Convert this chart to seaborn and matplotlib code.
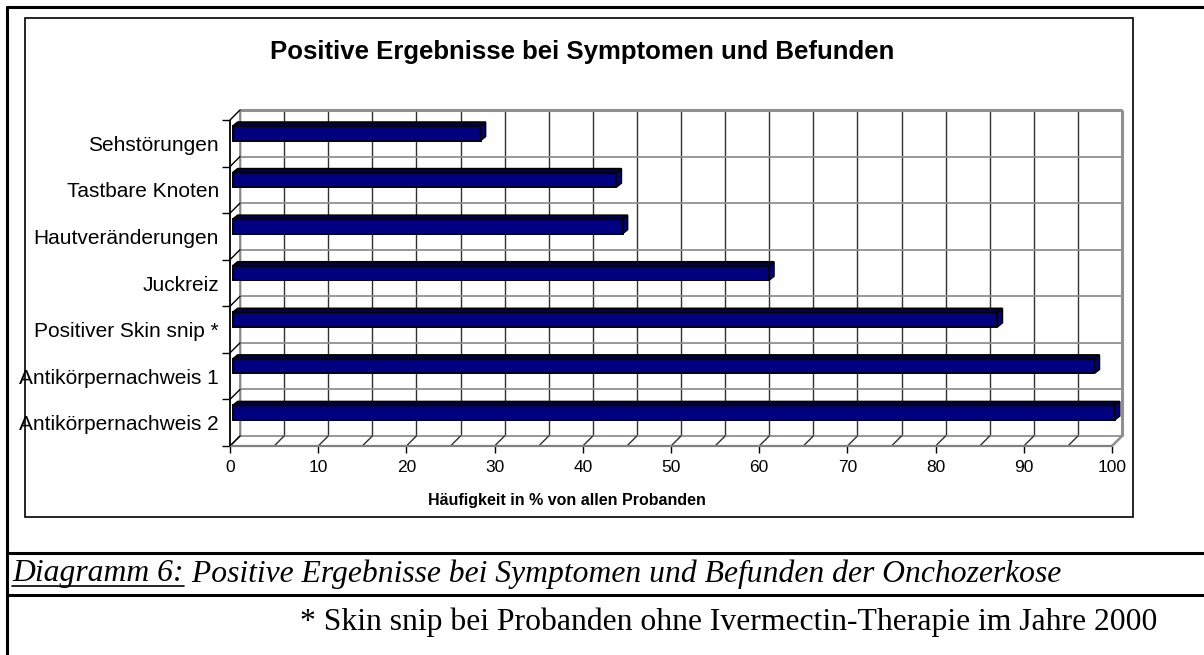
import numpy as np
import pandas as pd
import seaborn as sns
import matplotlib.pyplot as plt
from matplotlib.patches import Polygon, Rectangle
from matplotlib.lines import Line2D
from matplotlib.transforms import ScaledTranslation

categories = ["Sehstörungen", "Tastbare Knoten", "Hautveränderungen", "Juckreiz",
              "Positiver Skin snip *", "Antikörpernachweis 1", "Antikörpernachweis 2"]
values = [28.1, 43.5, 44.2, 60.8, 86.7, 97.7, 100.0]
xticks = list(range(0, 101, 10))
grid_steps = list(range(0, 101, 5))

title = "Positive Ergebnisse bei Symptomen und Befunden"
xlabel = "Häufigkeit in % von allen Probanden"
caption_head = "Diagramm 6:"
caption_tail = " Positive Ergebnisse bei Symptomen und Befunden der Onchozerkose"
footnote = "* Skin snip bei Probanden ohne Ivermectin-Therapie im Jahre 2000"

W, H, DPI = 1204, 655, 100
NAVY = "#000080"

sns.set_theme(style="white")
plt.rcParams["font.family"] = ["Liberation Sans", "DejaVu Sans"]

fig = plt.figure(figsize=(W / DPI, H / DPI), dpi=DPI)
fig.patch.set_facecolor("white")

# front plane of the fake 3d box (pixels)
L, R, T, B = 230, 1112, 120, 446
ax = fig.add_axes([L / W, 1 - B / H, (R - L) / W, (B - T) / H])
ax.set_facecolor("none")

df = pd.DataFrame({"cat": categories, "val": values})
sns.barplot(data=df, x="val", y="cat", orient="h", color=NAVY, saturation=1,
            width=0.31, edgecolor="black", linewidth=1.4, ax=ax, zorder=3)
ax.set_xlim(0, 100)
ax.set_ylim(6.5, -0.5)

# pixel -> data conversions
sx = (R - L) / 100
sy = (B - T) / len(categories)
ddx, ddy = 10 / sx, -10 / sy        # depth of the box
n = len(categories)
bounds = np.arange(-0.5, n, 1)

# back wall
ax.vlines(np.array(grid_steps) + ddx, -0.5 + ddy, n - 0.5 + ddy, color="#303030",
          lw=1, clip_on=False, zorder=1)
ax.hlines(bounds + ddy, ddx, 100 + ddx, color="#909090", lw=1.3, clip_on=False, zorder=1)
ax.hlines(-0.5 + ddy, ddx, 100 + ddx, color="#909090", lw=2.2, clip_on=False, zorder=1)
ax.vlines([100 + ddx], -0.5 + ddy, n - 0.5 + ddy, color="#909090", lw=2.2, clip_on=False, zorder=1)
ax.vlines([ddx], -0.5 + ddy, n - 0.5 + ddy, color="#909090", lw=1.3, clip_on=False, zorder=1)

# floor
for g in grid_steps:
    ax.plot([g, g + ddx], [n - 0.5, n - 0.5 + ddy], color="#303030", lw=1, clip_on=False, zorder=1)
ax.plot([100, 100 + ddx], [n - 0.5, n - 0.5 + ddy], color="#909090", lw=1.8, clip_on=False, zorder=1)
ax.hlines(n - 0.5, 0, 100, color="#808080", lw=1.6, clip_on=False, zorder=2)

# left wall
for b in bounds:
    ax.plot([0, ddx], [b, b + ddy], color="black", lw=1, clip_on=False, zorder=1)
ax.vlines([0], -0.5, n - 0.5, color="black", lw=1.3, clip_on=False, zorder=2)

# bars: shift a little into the box and add top / side faces
shift = ax.transData + ScaledTranslation(2.7 / DPI, 10 / DPI, fig.dpi_scale_trans)
fdx, fdy = 5 / sx, -4 / sy
for p in list(ax.patches):
    p.set_transform(shift)
    p.set_clip_on(False)
    x0, x1 = p.get_x(), p.get_x() + p.get_width()
    y0, y1 = p.get_y(), p.get_y() + p.get_height()
    top = [(x0, y0), (x1, y0), (x1 + fdx, y0 + fdy), (x0 + fdx, y0 + fdy)]
    side = [(x1, y0), (x1, y1), (x1 + fdx, y1 + fdy), (x1 + fdx, y0 + fdy)]
    for face, fc in [(top, "#000050"), (side, NAVY)]:
        ax.add_patch(Polygon(face, closed=True, facecolor=fc, edgecolor="black",
                             lw=1.2, transform=shift, clip_on=False, zorder=3))

for s in ax.spines.values():
    s.set_visible(False)

ax.set_xticks(xticks)
ax.tick_params(axis="x", bottom=True, length=5, width=1, color="black", pad=5,
               labelsize=12.5, labelcolor="black")
ax.set_yticks(range(n))
ax.set_yticklabels(categories)
ax.set_yticks(bounds, minor=True)
ax.tick_params(axis="y", which="major", left=False, length=0, pad=8, labelsize=15,
               labelcolor="black")
ax.tick_params(axis="y", which="minor", left=True, length=6, width=1, color="black")
ax.set_ylabel("")
ax.set_xlabel(xlabel, fontsize=11.5, fontweight="bold", color="black")
ax.xaxis.set_label_coords((567 - L) / (R - L), -(500 - B) / (B - T))
ax.xaxis.label.set_va("center")

fig.text(582 / W, 1 - 52 / H, title, ha="center", va="center", fontsize=18.5,
         fontweight="bold", color="black")

# chart frame and page table lines
fig.add_artist(Rectangle((25 / W, 1 - 517 / H), (1133 - 25) / W, (517 - 18) / H,
                         transform=fig.transFigure, fill=False, edgecolor="black", lw=1.2))
for yy in [7, 553, 595]:
    fig.add_artist(Line2D([7 / W, 1], [1 - yy / H] * 2, transform=fig.transFigure,
                          color="black", lw=2.2))
fig.add_artist(Line2D([7 / W, 7 / W], [1 - 7 / H, 0], transform=fig.transFigure,
                      color="black", lw=2.2))

# caption with underlined head
serif = ["Liberation Serif", "DejaVu Serif"]
head = fig.text(12 / W, 1 - 574 / H, caption_head, ha="left", va="center", fontsize=22.8,
                style="italic", family=serif, color="black")
fig.canvas.draw()
bb = head.get_window_extent()
fig.add_artist(Line2D([bb.x0 / W, bb.x1 / W], [(bb.y0 + 3) / H] * 2,
                      transform=fig.transFigure, color="black", lw=1.2))
fig.text(bb.x1 / W, 1 - 574 / H, caption_tail, ha="left", va="center", fontsize=22.8,
         style="italic", family=serif, color="black")

fig.text(300 / W, 1 - 622 / H, footnote, ha="left", va="center", fontsize=22.8,
         family=serif, color="black")

fig.savefig("out.png", dpi=DPI, facecolor="white")
